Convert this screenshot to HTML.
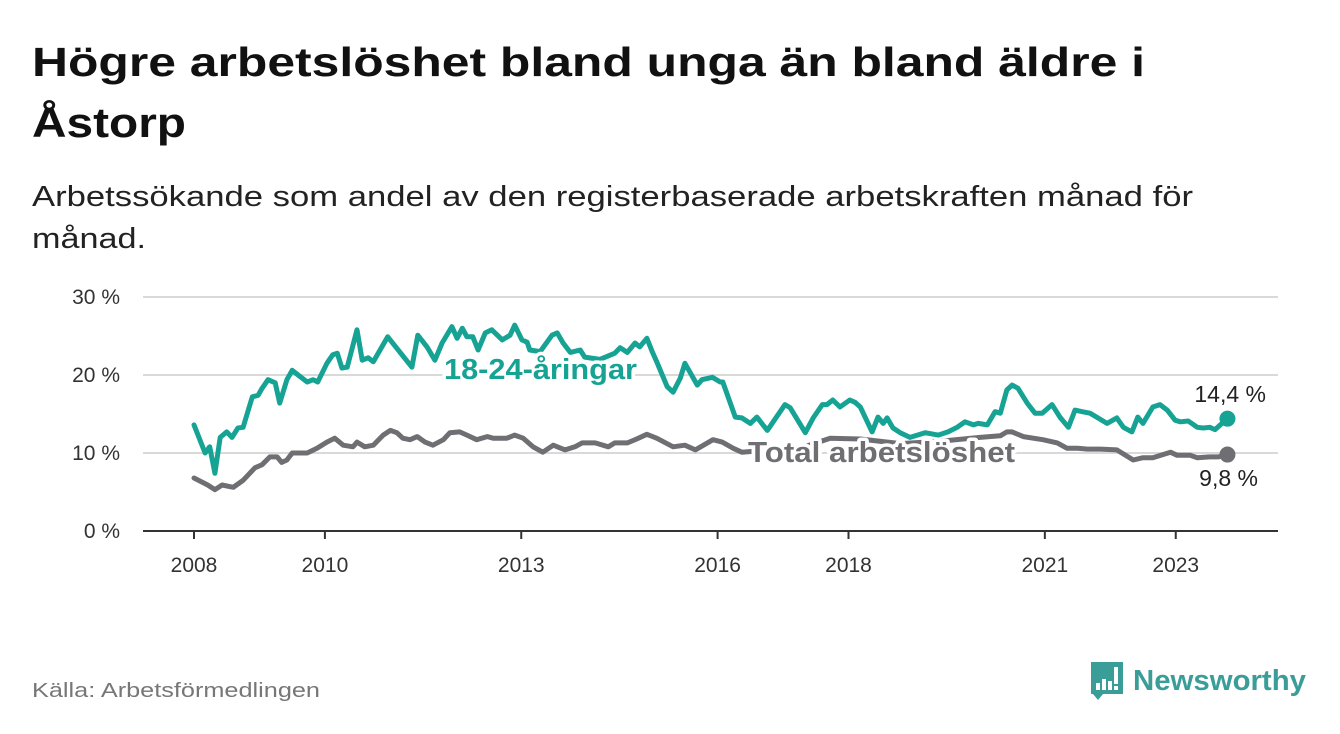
<!DOCTYPE html>
<html><head><meta charset="utf-8"><style>
html,body{margin:0;padding:0;background:#fff;}
svg{display:block;font-family:"Liberation Sans",sans-serif;}
</style></head><body>
<svg id="chart" width="1340" height="734" viewBox="0 0 1340 734">
<text x="32" y="76" font-size="41" font-weight="bold" fill="#111" textLength="1113" lengthAdjust="spacingAndGlyphs">Högre arbetslöshet bland unga än bland äldre i</text>
<text x="32" y="137" font-size="42" font-weight="bold" fill="#111" textLength="154" lengthAdjust="spacingAndGlyphs">Åstorp</text>
<text x="32" y="206" font-size="29" fill="#222" textLength="1161" lengthAdjust="spacingAndGlyphs">Arbetssökande som andel av den registerbaserade arbetskraften månad för</text>
<text x="32" y="248" font-size="29" fill="#222" textLength="114" lengthAdjust="spacingAndGlyphs">månad.</text>
<g id="grid"></g><g id="axes"></g><g id="lines"></g><g id="labels"></g>
<text x="32" y="697" font-size="20" fill="#777" textLength="288" lengthAdjust="spacingAndGlyphs">Källa: Arbetsförmedlingen</text>
<g>
<path d="M1091 662 h32 v32 h-20 l-5 6 l-5 -6 h-2 z" fill="#3a9d97"/>
<rect x="1096" y="683" width="4" height="7" fill="#fff"/><rect x="1102" y="679" width="4" height="11" fill="#fff"/><rect x="1108" y="681" width="4" height="9" fill="#fff"/><rect x="1114" y="667" width="4" height="17" fill="#fff"/><rect x="1114" y="686" width="4" height="4" fill="#fff"/>
<text x="1133" y="690" font-size="29" font-weight="bold" fill="#3a9d97" textLength="173" lengthAdjust="spacingAndGlyphs">Newsworthy</text>
</g>
</svg>
<script>
const youthYears=[2008.0,2008.17,2008.24,2008.32,2008.40,2008.50,2008.58,2008.67,2008.75,2008.89,2008.98,2009.04,2009.13,2009.24,2009.31,2009.42,2009.50,2009.59,2009.73,2009.82,2009.89,2010.03,2010.12,2010.19,2010.26,2010.34,2010.49,2010.57,2010.66,2010.74,2010.96,2011.33,2011.42,2011.56,2011.68,2011.79,2011.94,2012.02,2012.10,2012.17,2012.26,2012.34,2012.45,2012.55,2012.71,2012.83,2012.90,2013.01,2013.09,2013.13,2013.29,2013.47,2013.55,2013.64,2013.75,2013.90,2013.97,2014.20,2014.43,2014.51,2014.62,2014.74,2014.81,2014.92,2015.00,2015.07,2015.23,2015.32,2015.43,2015.50,2015.69,2015.76,2015.92,2016.04,2016.08,2016.27,2016.37,2016.50,2016.60,2016.76,2017.03,2017.11,2017.34,2017.46,2017.60,2017.67,2017.76,2017.87,2018.02,2018.10,2018.18,2018.36,2018.45,2018.53,2018.59,2018.68,2018.79,2018.94,2019.17,2019.37,2019.52,2019.66,2019.78,2019.91,2019.98,2020.12,2020.24,2020.32,2020.42,2020.50,2020.59,2020.73,2020.85,2020.96,2021.11,2021.23,2021.36,2021.46,2021.57,2021.69,2021.81,2021.95,2022.10,2022.20,2022.33,2022.42,2022.50,2022.65,2022.76,2022.87,2022.99,2023.07,2023.19,2023.33,2023.42,2023.52,2023.60,2023.68,2023.79];
const youthValues=[13.6,10,10.8,7.4,12,12.7,12,13.2,13.3,17.2,17.4,18.3,19.4,19,16.4,19.4,20.6,20,19.1,19.4,19.1,21.5,22.6,22.8,20.9,21,25.8,21.9,22.2,21.7,24.9,21,25.1,23.6,21.9,24.1,26.2,24.7,26,24.9,24.9,23.2,25.4,25.8,24.5,25.1,26.4,24.5,24.2,23.2,23.0,25.1,25.4,24.1,22.9,23.2,22.3,22.0,22.8,23.5,22.9,24.1,23.6,24.7,23,21.7,18.5,17.8,19.6,21.5,18.7,19.4,19.7,19.1,19.1,14.6,14.5,13.8,14.6,12.9,16.2,15.8,12.6,14.5,16.2,16.2,16.8,15.9,16.8,16.5,15.9,12.7,14.6,13.8,14.5,13.2,12.6,12.0,12.6,12.3,12.7,13.3,14,13.6,13.8,13.6,15.3,15.1,18.1,18.7,18.3,16.4,15.1,15.1,16.2,14.6,13.3,15.5,15.3,15.1,14.5,13.8,14.5,13.3,12.7,14.6,13.8,15.9,16.2,15.5,14.2,14,14.1,13.3,13.2,13.3,13,13.6,14.4];
const totalYears=[2008.0,2008.21,2008.32,2008.43,2008.60,2008.75,2008.93,2009.04,2009.16,2009.27,2009.34,2009.42,2009.50,2009.73,2009.88,2010.03,2010.15,2010.28,2010.43,2010.49,2010.61,2010.74,2010.89,2011.00,2011.10,2011.19,2011.30,2011.41,2011.53,2011.65,2011.81,2011.91,2012.06,2012.17,2012.32,2012.48,2012.57,2012.78,2012.90,2013.03,2013.18,2013.33,2013.49,2013.67,2013.82,2013.93,2014.13,2014.33,2014.43,2014.62,2014.74,2014.92,2015.07,2015.32,2015.50,2015.66,2015.93,2016.07,2016.24,2016.37,2016.65,2017.26,2017.72,2018.18,2018.79,2019.40,2020.01,2020.32,2020.42,2020.50,2020.67,2020.97,2021.19,2021.34,2021.50,2021.65,2021.85,2022.10,2022.35,2022.50,2022.65,2022.92,2023.02,2023.22,2023.33,2023.52,2023.65,2023.79];
const totalValues=[6.8,5.9,5.3,5.9,5.6,6.5,8.1,8.5,9.5,9.5,8.8,9.1,10,10,10.6,11.4,11.9,11,10.8,11.4,10.8,11,12.3,12.9,12.6,11.9,11.7,12.1,11.4,11,11.7,12.6,12.7,12.3,11.7,12.1,11.9,11.9,12.3,11.9,10.8,10.1,11,10.4,10.8,11.3,11.3,10.8,11.3,11.3,11.7,12.4,11.9,10.8,11,10.4,11.7,11.4,10.6,10.1,10.3,10.6,11.9,11.8,11.2,11.5,12.0,12.2,12.7,12.7,12.1,11.7,11.3,10.6,10.6,10.5,10.5,10.4,9.1,9.4,9.4,10.1,9.7,9.7,9.4,9.5,9.5,9.8];
const yTicks=[0,10,20,30];
const yTickLabels=["0 %","10 %","20 %","30 %"];
const xTicks=[2008,2010,2013,2016,2018,2021,2023];
const xTickLabels=["2008","2010","2013","2016","2018","2021","2023"];
const NS="http://www.w3.org/2000/svg";
const X=y=>194+(y-2008)*65.45;
const Y=v=>531-v*7.8;
function mk(tag,attrs,parent,text){const e=document.createElementNS(NS,tag);for(const k in attrs)e.setAttribute(k,attrs[k]);if(text!==undefined)e.textContent=text;parent.appendChild(e);return e;}
const grid=document.getElementById('grid'),axes=document.getElementById('axes'),lines=document.getElementById('lines'),labels=document.getElementById('labels');
yTicks.forEach((t,i)=>{
 if(t>0){const g=mk('line',{x1:143,x2:1278,y1:Y(t),y2:Y(t),stroke:'#d9d9d9','stroke-width':2},grid);
 
 }
 const l=mk('text',{x:120,y:Y(t)+7,'text-anchor':'end','font-size':21,fill:'#333'},axes,yTickLabels[i]);
 
 
});
const ax=mk('line',{x1:143,x2:1278,y1:531,y2:531,stroke:'#333','stroke-width':2},axes);


xTicks.forEach((t,i)=>{
 const tk=mk('line',{x1:X(t),x2:X(t),y1:531,y2:539,stroke:'#333','stroke-width':2},axes);
 
 
 const l=mk('text',{x:X(t),y:572,'text-anchor':'middle','font-size':21,fill:'#333'},axes,xTickLabels[i]);
 
 
});
function drawLine(xs,vs,color,name){
 const d=xs.map((x,i)=>(i?'L':'M')+X(x).toFixed(1)+' '+Y(vs[i]).toFixed(1)).join(' ');
 const p=mk('path',{d:d,fill:'none',stroke:color,'stroke-width':5,'stroke-linejoin':'round','stroke-linecap':'round'},lines);
 
 
 const n=xs.length-1;
 const c=mk('circle',{cx:X(xs[n]),cy:Y(vs[n]),r:8,fill:color},lines);
 
 
}
drawLine(totalYears,totalValues,'#6f6e73','total-line');
drawLine(youthYears,youthValues,'#16a394','youth-line');
const halo={stroke:'#fff','stroke-width':7,'paint-order':'stroke','stroke-linejoin':'round'};
function lab(x,y,txt,attrs,name){const t=mk('text',Object.assign({x:x,y:y},halo,attrs),labels,txt);
 
 }
lab(444,379,'18-24-åringar',{'font-size':29,'font-weight':'bold',fill:'#16a394',textLength:193,lengthAdjust:'spacingAndGlyphs'},'youth-series-label');
lab(748,462,'Total arbetslöshet',{'font-size':29,'font-weight':'bold',fill:'#6f6e73',textLength:267,lengthAdjust:'spacingAndGlyphs'},'total-series-label');
const ny=youthValues.length-1,nt=totalValues.length-1;
lab(1266,402,String(youthValues[ny]).replace('.',',')+' %',{'font-size':23,fill:'#222','text-anchor':'end'},'youth-end-value');
lab(1258,486,String(totalValues[nt]).replace('.',',')+' %',{'font-size':23,fill:'#222','text-anchor':'end'},'total-end-value');
</script>
</body></html>
